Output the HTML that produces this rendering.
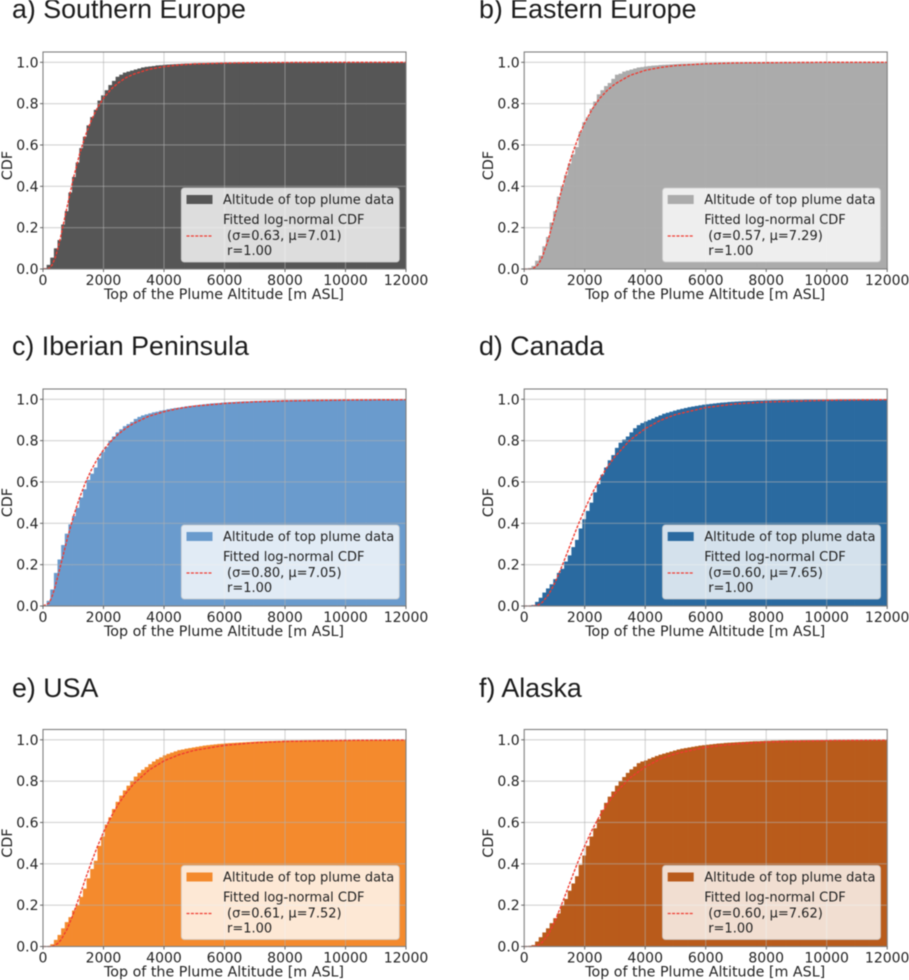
<!DOCTYPE html>
<html lang="en">
<head>
<meta charset="utf-8">
<title>Plume altitude CDFs</title>
<style>
html,body{margin:0;padding:0;background:#fff;}
svg{display:block;filter:blur(0.45px);}
text{font-family:"DejaVu Sans","Liberation Sans",sans-serif;fill:#222;}
.title{font-family:"Liberation Sans",sans-serif;font-size:26.8px;fill:#1c1c1c;}
</style>
</head>
<body>
<svg id="figure" xmlns="http://www.w3.org/2000/svg" width="909" height="980" viewBox="0 0 909 980"></svg>
<script>
const xTicks = [0, 2000, 4000, 6000, 8000, 10000, 12000];
const yTicks = [0, 0.2, 0.4, 0.6, 0.8, 1.0];
const binWidth = 120;
const fitAltitudes = [0,200,300,400,500,600,800,1000,1200,1400,1600,1800,2000,2250,2500,2750,3000,3500,4000,4500,5000,6000,7000,8000,10000,12000];

const histSouthernEurope = [
.004,.02,.055,.10,.14,.215,.28,.37,.445,.515,.585,.64,.695,.735,.77,.815,.84,.865,.89,.91,
.93,.94,.95,.955,.96,.965,.97,.975,.978,.98,.982,.985,.986,.988,.989,.99,.991,.992,.993,.994,
.994,.995,.995,.996,.996,.997,.997,.997,.998,.998,.998,.998,.998,.999,.999,.999,.999,.999,.999,.999,
.999,.999,.999,.999,.999,.999,1,1,1,1,1,1,1,1,1,1,1,1,1,1,
1,1,1,1,1,1,1,1,1,1,1,1,1,1,1,1,1,1,1,1];
const fitSouthernEurope = [0,.003,.019,.053,.104,.166,.303,.436,.551,.645,.720,.780,.826,.870,.902,.926,.943,.966,.979,.987,.992,.996,.998,.999,1,1];

const histEasternEurope = [
.002,.005,.015,.04,.065,.11,.155,.225,.28,.35,.40,.455,.51,.555,.59,.665,.71,.735,.775,.81,
.845,.865,.885,.90,.92,.94,.945,.955,.96,.965,.97,.975,.977,.98,.982,.984,.985,.987,.988,.989,
.99,.991,.992,.993,.993,.994,.994,.995,.995,.996,.996,.997,.997,.997,.998,.998,.998,.998,.999,.999,
.999,.999,.999,.999,.999,.999,.999,1,1,1,1,1,1,1,1,1,1,1,1,1,
1,1,1,1,1,1,1,1,1,1,1,1,1,1,1,1,1,1,1,1];
const fitEasternEurope = [0,0,.003,.012,.030,.059,.145,.251,.363,.468,.561,.641,.707,.774,.826,.865,.895,.937,.961,.975,.984,.993,.997,.998,1,1];

const histIberianPeninsula = [
.002,.025,.08,.16,.225,.295,.35,.395,.435,.475,.525,.565,.61,.64,.67,.715,.745,.77,.80,.82,
.84,.855,.87,.88,.89,.905,.915,.922,.927,.932,.937,.94,.945,.948,.952,.955,.958,.96,.963,.966,
.968,.97,.972,.974,.976,.978,.98,.981,.982,.984,.985,.986,.987,.988,.989,.99,.99,.991,.992,.992,
.993,.993,.994,.994,.995,.995,.996,.996,.996,.997,.997,.997,.997,.998,.998,.998,.998,.998,.998,.999,
.999,.999,.999,.999,.999,.999,.999,.999,.999,.999,1,1,1,1,1,1,1,1,1,1];
const fitIberianPeninsula = [0,.014,.046,.093,.148,.207,.324,.430,.520,.596,.659,.712,.755,.798,.833,.861,.884,.918,.940,.956,.967,.980,.988,.992,.9965,.998];

const histCanada = [
.001,.002,.005,.02,.04,.065,.085,.105,.13,.16,.18,.215,.245,.285,.32,.375,.42,.46,.50,.55,
.59,.635,.67,.705,.73,.765,.79,.805,.82,.84,.86,.875,.885,.893,.90,.907,.915,.922,.93,.935,
.94,.945,.95,.954,.958,.962,.965,.968,.971,.974,.976,.978,.98,.982,.984,.985,.987,.988,.989,.99,
.991,.992,.992,.993,.994,.994,.995,.995,.996,.996,.997,.997,.997,.998,.998,.998,.998,.999,.999,.999,
.999,.999,.999,.999,.999,.999,1,1,1,1,1,1,1,1,1,1,1,1,1,1];
const fitCanada = [0,0,.001,.003,.008,.018,.054,.107,.175,.249,.325,.399,.467,.546,.614,.673,.723,.803,.858,.898,.926,.960,.978,.987,.995,.998];

const histUSA = [
.001,.002,.011,.032,.056,.088,.118,.142,.174,.20,.24,.28,.33,.375,.415,.487,.532,.59,.625,.665,
.70,.73,.755,.778,.80,.822,.84,.855,.868,.882,.895,.906,.915,.925,.932,.938,.944,.95,.953,.957,
.96,.963,.966,.969,.972,.974,.976,.978,.98,.981,.983,.984,.985,.986,.987,.988,.989,.99,.991,.992,
.992,.993,.994,.994,.995,.995,.996,.996,.997,.997,.997,.998,.998,.998,.998,.999,.999,.999,.999,.999,
.999,.999,.999,.999,.999,1,1,1,1,1,1,1,1,1,1,1,1,1,1,1];
const fitUSA = [0,0,.001,.006,.016,.033,.085,.157,.240,.326,.408,.484,.553,.628,.691,.743,.787,.853,.898,.928,.949,.973,.986,.992,.997,.999];

const histAlaska = [
.001,.003,.007,.024,.045,.068,.088,.113,.137,.16,.198,.23,.27,.305,.34,.395,.44,.487,.532,.572,
.616,.66,.695,.725,.75,.778,.80,.82,.84,.857,.87,.887,.895,.90,.908,.915,.922,.928,.933,.938,
.943,.948,.953,.957,.96,.963,.966,.969,.972,.974,.976,.978,.98,.982,.983,.985,.986,.987,.988,.989,
.99,.991,.992,.993,.993,.994,.995,.995,.996,.996,.997,.997,.998,.998,.998,.998,.999,.999,.999,.999,
.999,.999,.999,.999,.999,1,1,1,1,1,1,1,1,1,1,1,1,1,1,1];
const fitAlaska = [0,0,.001,.003,.010,.021,.059,.117,.189,.265,.343,.418,.487,.566,.633,.691,.740,.816,.869,.907,.933,.964,.980,.989,.996,.998];

const panels = [
  {key:'southern-europe', title:'a) Southern Europe', color:'#565656', hist:histSouthernEurope, fit:fitSouthernEurope, sigma:'0.63', mu:'7.01', dx:0, dy:0, titleX:12, titleY:18},
  {key:'eastern-europe', title:'b) Eastern Europe', color:'#ababab', hist:histEasternEurope, fit:fitEasternEurope, sigma:'0.57', mu:'7.29', dx:481.2, dy:0, titleX:-2.2, titleY:18},
  {key:'iberian-peninsula', title:'c) Iberian Peninsula', color:'#6a9bcd', hist:histIberianPeninsula, fit:fitIberianPeninsula, sigma:'0.80', mu:'7.05', dx:0, dy:337, titleX:12, titleY:18},
  {key:'canada', title:'d) Canada', color:'#2a6aa0', hist:histCanada, fit:fitCanada, sigma:'0.60', mu:'7.65', dx:481.2, dy:337, titleX:-2.2, titleY:18},
  {key:'usa', title:'e) USA', color:'#f48a2d', hist:histUSA, fit:fitUSA, sigma:'0.61', mu:'7.52', dx:0, dy:677.5, titleX:12, titleY:19.5},
  {key:'alaska', title:'f) Alaska', color:'#b95b1b', hist:histAlaska, fit:fitAlaska, sigma:'0.60', mu:'7.62', dx:481.2, dy:677.5, titleX:-2.2, titleY:19.5}
];

const NS = 'http://www.w3.org/2000/svg';
const AX = {left:43, right:406, top:52, bottom:269, yOne:62.3};
const xMax = 12000;

function xScale(v){ return AX.left + (v / xMax) * (AX.right - AX.left); }
function yScale(v){ return AX.bottom - v * (AX.bottom - AX.yOne); }

function make(parent, tag, attrs, text){
  const node = document.createElementNS(NS, tag);
  for (const k in attrs) node.setAttribute(k, attrs[k]);
  if (text !== undefined) node.textContent = text;
  parent.appendChild(node);
  return node;
}

const figure = document.getElementById('figure');

panels.forEach(function(p){
  const g = make(figure, 'g', {transform:'translate(' + p.dx + ',' + p.dy + ')'});
  
  

  const title = make(g, 'text', {x:p.titleX, y:p.titleY, class:'title'}, p.title);
  
  

  const bars = make(g, 'g', {});
  
  
  p.hist.forEach(function(v, i){
    const x0 = xScale(i * binWidth);
    const x1 = xScale((i + 1) * binWidth);
    const bar = make(bars, 'rect', {x:x0, y:yScale(v), width:(x1 - x0) + (i < p.hist.length - 1 ? 0.4 : 0), height:yScale(0) - yScale(v), fill:p.color});
    
    
  });

  const grid = make(g, 'g', {stroke:'#b0b0b0', 'stroke-opacity':'0.55', 'stroke-width':'1.1'});
  
  
  xTicks.slice(1, -1).forEach(function(t){
    const line = make(grid, 'line', {x1:xScale(t), x2:xScale(t), y1:AX.top, y2:AX.bottom});
    
    
  });
  yTicks.slice(1).forEach(function(t){
    const line = make(grid, 'line', {x1:AX.left, x2:AX.right, y1:yScale(t), y2:yScale(t)});
    
    
  });

  const pts = fitAltitudes.map(function(a, i){ return xScale(a) + ',' + yScale(p.fit[i]); }).join(' ');
  const fitLine = make(g, 'polyline', {points:pts, fill:'none', stroke:'#f03a30', 'stroke-width':'1.35', 'stroke-dasharray':'3 1.4'});
  
  

  const frame = make(g, 'rect', {x:AX.left, y:AX.top, width:AX.right - AX.left, height:AX.bottom - AX.top, fill:'none', stroke:'#7f7f7f', 'stroke-width':'1.1'});
  
  

  xTicks.forEach(function(t){
    const tick = make(g, 'line', {x1:xScale(t), x2:xScale(t), y1:AX.bottom, y2:AX.bottom + 3, stroke:'#555', 'stroke-width':'0.9'});
    
    
    const label = make(g, 'text', {x:xScale(t), y:285, 'text-anchor':'middle', 'font-size':'14'}, String(t));
    
    
  });
  yTicks.forEach(function(t){
    const tick = make(g, 'line', {x1:AX.left - 3, x2:AX.left, y1:yScale(t), y2:yScale(t), stroke:'#555', 'stroke-width':'0.9'});
    
    
    const label = make(g, 'text', {x:AX.left - 4.5, y:yScale(t) + 5, 'text-anchor':'end', 'font-size':'14'}, t.toFixed(1));
    
    
  });

  const xTitle = make(g, 'text', {x:224, y:299, 'text-anchor':'middle', 'font-size':'14.25'}, 'Top of the Plume Altitude [m ASL]');
  
  
  const yTitle = make(g, 'text', {x:0, y:0, transform:'translate(12,165.5) rotate(-90)', 'text-anchor':'middle', 'font-size':'14.25'}, 'CDF');
  
  

  const legend = make(g, 'g', {});
  
  
  const box = make(legend, 'rect', {x:181.3, y:188, width:218, height:74, rx:3, fill:'#ffffff', 'fill-opacity':'0.8', stroke:'#cccccc', 'stroke-opacity':'0.8', 'stroke-width':'0.9'});
  
  
  const swatch = make(legend, 'rect', {x:186.5, y:195, width:26, height:9, fill:p.color});
  
  
  const dash = make(legend, 'line', {x1:186.5, x2:212.5, y1:236, y2:236, stroke:'#f03a30', 'stroke-width':'1.35', 'stroke-dasharray':'3 1.4'});
  
  
  const t1 = make(legend, 'text', {x:223, y:204, 'font-size':'13'}, 'Altitude of top plume data');
  
  
  const t2 = make(legend, 'text', {x:223, y:224, 'font-size':'13'}, 'Fitted log-normal CDF');
  
  
  const t3 = make(legend, 'text', {x:227, y:240, 'font-size':'13'}, '(σ=' + p.sigma + ', μ=' + p.mu + ')');
  
  
  const t4 = make(legend, 'text', {x:227, y:255, 'font-size':'13'}, 'r=1.00');
  
  
});
</script>
</body>
</html>
